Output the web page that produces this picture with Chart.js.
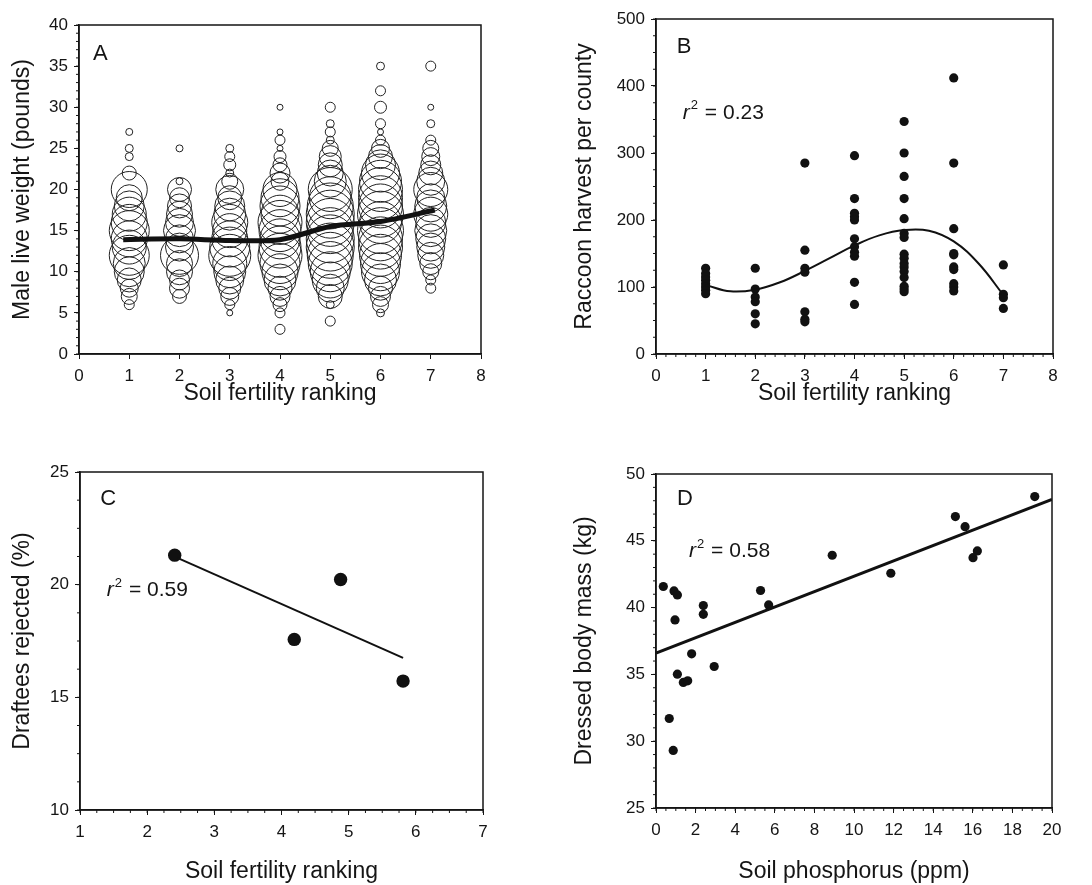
<!DOCTYPE html>
<html><head><meta charset="utf-8">
<script src="https://cdn.jsdelivr.net/npm/chart.js@4.4.1/dist/chart.umd.min.js"></script>
<style>
html,body{margin:0;padding:0;background:#fff;}
#wrap{position:relative;width:1092px;height:885px;overflow:hidden;background:#fff;}
canvas{position:absolute;}
</style></head><body>
<div id="wrap">
<canvas id="cA" width="546" height="420" style="left:0;top:0;width:546px;height:420px"></canvas>
<canvas id="cB" width="546" height="420" style="left:546px;top:0;width:546px;height:420px"></canvas>
<canvas id="cC" width="546" height="465" style="left:0;top:420px;width:546px;height:465px"></canvas>
<canvas id="cD" width="546" height="465" style="left:546px;top:420px;width:546px;height:465px"></canvas>
</div>
<script>
// ---------- Panel A : bubbles (weight, relative frequency) per fertility rank ----------
const rankA = [1, 2, 3, 4, 5, 6, 7];
const weightA1 = [27,25,24,22,20,19,18,17,16,15,14,13,12,11,10,9,8,7,6];
const sizeA1   = [3.5,4,4,7,18,13,15,17,18,20,18,17,20,16,15,12,9,8,5];
const weightA2 = [25,21,20,19,18,17,16,15,14,13,12,11,10,9,8,7];
const sizeA2   = [3.5,3.5,12,10,12,13,14,16,14,14,19,13,13,10,10,7];
const weightA3 = [25,24,23,22,21,20,19,18,17,16,15,14,13,12,11,10,9,8,7,6,5];
const sizeA3   = [4,5,6,4,8,14,12,15,16,18,17,18,20,21,17,16,14,11,9,5,3];
const weightA4 = [30,27,26,25,24,23,22,21,20,19,18,17,16,15,14,13,12,11,10,9,8,7,6,5,3];
const sizeA4   = [3,3,5,3,6,7,10,9,17,19,20,19,22,21,20,21,22,20,18,16,12,10,7,5,5];
const weightA5 = [30,28,27,26,25,24,23,22,21,20,19,18,17,16,15,14,13,12,11,10,9,8,7,6,4];
const sizeA5   = [5,4,5,4,8,11,12,13,16,22,21,23,24,24,23,24,24,23,22,20,18,14,12,4,5];
const weightA6 = [35,32,30,28,27,26,25,24,23,22,21,20,19,18,17,16,15,14,13,12,11,10,9,8,7,6,5];
const sizeA6   = [4,5,6,5,3,5,9,12,15,19,21,22,22,22,23,21,23,22,22,21,20,19,16,12,10,8,4];
const weightA7 = [35,30,28,26,25,24,23,22,21,20,19,18,17,16,15,14,13,12,11,10,9,8];
const sizeA7   = [5,3,4,5,8,9,10,12,14,17,14,16,17,15,16,15,14,13,11,8,5,5];
const trendRankA   = [0.88, 2, 3, 4, 5, 6, 7.08];
const trendWeightA = [13.9, 14.0, 13.8, 13.9, 15.5, 16.1, 17.5];

// ---------- Panel B : raccoon harvest per county ----------
const rankB = [1,1,1,1,1,1,1,1, 2,2,2,2,2,2, 3,3,3,3,3,3,3, 4,4,4,4,4,4,4,4,4,4,4,
  5,5,5,5,5,5,5,5,5,5,5,5,5,5,5,5, 6,6,6,6,6,6,6,6,6,6, 7,7,7,7];
const harvestB = [128,120,115,110,105,100,95,90, 128,97,85,78,60,45, 285,155,128,122,63,52,48,
  296,232,210,205,200,172,160,152,146,107,74,
  347,300,265,232,202,180,174,149,143,135,130,123,114,101,97,93,
  412,285,187,150,148,130,126,105,100,94, 133,89,84,68];
const curveRankB    = [1, 1.5, 2, 2.5, 3, 3.5, 4, 4.5, 5, 5.5, 6, 6.5, 7];
const curveHarvestB = [103, 93.5, 96, 107, 124, 143, 162, 177, 185, 184, 168, 135, 88];

// ---------- Panel C : draftees rejected ----------
const rankC     = [2.41, 4.19, 4.88, 5.81];
const rejectedC = [21.31, 17.57, 20.23, 15.72];
const fitRankC     = [2.45, 5.81];
const fitRejectedC = [21.19, 16.75];

// ---------- Panel D : dressed body mass vs soil phosphorus ----------
const phosphorusD = [0.37,0.91,1.08,0.96,0.67,0.87,1.08,1.38,1.6,1.8,2.39,2.39,2.94,5.28,5.69,8.9,11.86,15.12,15.61,16.01,16.23,19.13];
const massD       = [41.58,41.25,40.95,39.08,31.7,29.31,35.02,34.4,34.52,36.54,40.15,39.5,35.59,41.28,40.2,43.92,42.57,46.81,46.06,43.74,44.24,48.31];
const fitPhosphorusD = [0, 20];
const fitMassD       = [36.6, 48.1];

// ---------- Text ----------
const panelLetters = ['A', 'B', 'C', 'D'];
const r2Values = ['0.23', '0.59', '0.58'];
const yTitles = ['Male live weight (pounds)', 'Raccoon harvest per county', 'Draftees rejected (%)', 'Dressed body mass (kg)'];
const xTitles = ['Soil fertility ranking', 'Soil fertility ranking', 'Soil fertility ranking', 'Soil phosphorus (ppm)'];

// ---------- helpers ----------
const FONT = '"Liberation Sans", Arial, Helvetica, sans-serif';
const INK = '#151515';
const zip = (xs, ys) => xs.map((x, i) => ({x, y: ys[i]}));
const bub = (x, ws, rs) => ws.map((w, i) => ({x, y: w, r: rs[i]}));

const framePlugin = {
  id: 'frame',
  afterDraw(chart, args, opts) {
    const {ctx, chartArea: a, scales} = chart;
    ctx.save();
    ctx.strokeStyle = INK;
    ctx.lineWidth = 1;
    const minor = (s, step, horiz) => {
      if (!step) return;
      const n = Math.round((s.max - s.min) / step);
      for (let i = 0; i <= n; i++) {
        const v = s.min + i * step;
        const p = s.getPixelForValue(v);
        ctx.beginPath();
        if (horiz) { ctx.moveTo(p, a.bottom); ctx.lineTo(p, a.bottom + 3); }
        else { ctx.moveTo(a.left, p); ctx.lineTo(a.left - 3, p); }
        ctx.stroke();
      }
    };
    minor(scales.x, opts.minorX, true);
    minor(scales.y, opts.minorY, false);
    ctx.lineWidth = 1.5;
    ctx.strokeRect(a.left, a.top, a.right - a.left, a.bottom - a.top);
    ctx.restore();
  }
};

const notesPlugin = {
  id: 'notes',
  afterDatasetsDraw(chart, args, opts) {
    const {ctx, scales: {x, y}} = chart;
    (opts.items || []).forEach(it => {
      const px = x.getPixelForValue(it.x), py = y.getPixelForValue(it.y);
      ctx.save();
      ctx.fillStyle = INK;
      ctx.textBaseline = 'middle';
      ctx.textAlign = 'left';
      if (it.r2) {
        ctx.font = 'italic 21px ' + FONT;
        ctx.fillText('r', px, py);
        let w = ctx.measureText('r').width + 1;
        ctx.font = '13px ' + FONT;
        ctx.fillText('2', px + w, py - 7);
        w += ctx.measureText('2').width + 1;
        ctx.font = '21px ' + FONT;
        ctx.fillText(' = ' + it.text, px + w, py);
      } else {
        ctx.font = '22px ' + FONT;
        ctx.fillText(it.text, px, py);
      }
      ctx.restore();
    });
  }
};

function axes(cfg) {
  const tickFont = {family: FONT, size: 17};
  const titleFont = {family: FONT, size: 23};
  return {
    x: {
      type: 'linear', min: cfg.xmin, max: cfg.xmax,
      ticks: {stepSize: cfg.xstep, color: INK, font: tickFont, padding: 7, maxRotation: 0, autoSkip: false},
      grid: {drawOnChartArea: false, drawTicks: true, tickLength: 5, tickColor: INK, tickWidth: 1},
      border: {display: true, color: INK, width: 1.5},
      title: {display: true, text: cfg.xTitle, color: INK, font: titleFont, padding: {top: 0, bottom: cfg.xTitlePad}},
      afterFit: s => { s.height = cfg.xH; }
    },
    y: {
      type: 'linear', min: cfg.ymin, max: cfg.ymax,
      ticks: {stepSize: cfg.ystep, color: INK, font: tickFont, padding: 6, autoSkip: false},
      grid: {drawOnChartArea: false, drawTicks: true, tickLength: 5, tickColor: INK, tickWidth: 1},
      border: {display: true, color: INK, width: 1.5},
      title: {display: true, text: cfg.yTitle, color: INK, font: titleFont, padding: {top: cfg.yTitlePad, bottom: 0}},
      afterFit: s => { s.width = cfg.yW; }
    }
  };
}

function baseOptions(cfg) {
  return {
    responsive: false, animation: false, devicePixelRatio: 1,
    layout: {padding: {left: 0, top: cfg.padTop, right: cfg.padRight, bottom: 0}},
    plugins: {
      legend: {display: false}, tooltip: {enabled: false},
      frame: {minorX: cfg.minorX, minorY: cfg.minorY},
      notes: {items: cfg.notes}
    },
    scales: axes(cfg)
  };
}

// ----- Chart A -----
const colsA = [[weightA1, sizeA1], [weightA2, sizeA2], [weightA3, sizeA3], [weightA4, sizeA4],
               [weightA5, sizeA5], [weightA6, sizeA6], [weightA7, sizeA7]];
const bubbleDataA = colsA.flatMap((c, i) => bub(rankA[i], c[0], c[1]));
new Chart(document.getElementById('cA'), {
  type: 'bubble',
  data: {datasets: [
    {type: 'line', data: zip(trendRankA, trendWeightA), borderColor: '#111', borderWidth: 5,
     pointRadius: 0, tension: 0.3, order: 0, fill: false},
    {type: 'bubble', data: bubbleDataA, backgroundColor: 'rgba(0,0,0,0)', borderColor: '#222',
     borderWidth: 1, order: 1, clip: false}
  ]},
  options: baseOptions({xmin: 0, xmax: 8, xstep: 1, ymin: 0, ymax: 40, ystep: 5,
    xTitle: xTitles[0], yTitle: yTitles[0], xH: 66, yW: 79, padTop: 18, padRight: 65,
    xTitlePad: 13, yTitlePad: 9, minorX: 0, minorY: 1,
    notes: [{x: 0.28, y: 36.5, text: panelLetters[0]}]}),
  plugins: [framePlugin, notesPlugin]
});

// ----- Chart B -----
new Chart(document.getElementById('cB'), {
  type: 'scatter',
  data: {datasets: [
    {type: 'line', data: zip(curveRankB, curveHarvestB), borderColor: '#111', borderWidth: 2,
     pointRadius: 0, tension: 0.4, order: 0, fill: false},
    {data: zip(rankB, harvestB), backgroundColor: '#111', borderColor: '#111', pointRadius: 4.6,
     borderWidth: 0, order: 1}
  ]},
  options: baseOptions({xmin: 0, xmax: 8, xstep: 1, ymin: 0, ymax: 500, ystep: 100,
    xTitle: xTitles[1], yTitle: yTitles[1], xH: 66, yW: 110, padTop: 19, padRight: 39,
    xTitlePad: 13, yTitlePad: 25, minorX: 0.2, minorY: 25,
    notes: [{x: 0.42, y: 458, text: panelLetters[1]}, {x: 0.54, y: 360, text: r2Values[0], r2: true}]}),
  plugins: [framePlugin, notesPlugin]
});

// ----- Chart C -----
new Chart(document.getElementById('cC'), {
  type: 'scatter',
  data: {datasets: [
    {type: 'line', data: zip(fitRankC, fitRejectedC), borderColor: '#111', borderWidth: 2,
     pointRadius: 0, order: 0, fill: false},
    {data: zip(rankC, rejectedC), backgroundColor: '#111', borderColor: '#111', pointRadius: 6.7,
     borderWidth: 0, order: 1}
  ]},
  options: baseOptions({xmin: 1, xmax: 7, xstep: 1, ymin: 10, ymax: 25, ystep: 5,
    xTitle: xTitles[2], yTitle: yTitles[2], xH: 75, yW: 80, padTop: 52, padRight: 63,
    xTitlePad: 0, yTitlePad: 9, minorX: 0.25, minorY: 1.25,
    notes: [{x: 1.30, y: 23.8, text: panelLetters[2]}, {x: 1.40, y: 19.76, text: r2Values[1], r2: true}]}),
  plugins: [framePlugin, notesPlugin]
});

// ----- Chart D -----
new Chart(document.getElementById('cD'), {
  type: 'scatter',
  data: {datasets: [
    {type: 'line', data: zip(fitPhosphorusD, fitMassD), borderColor: '#111', borderWidth: 3,
     pointRadius: 0, order: 0, fill: false},
    {data: zip(phosphorusD, massD), backgroundColor: '#111', borderColor: '#111', pointRadius: 4.6,
     borderWidth: 0, order: 1}
  ]},
  options: baseOptions({xmin: 0, xmax: 20, xstep: 2, ymin: 25, ymax: 50, ystep: 5,
    xTitle: xTitles[3], yTitle: yTitles[3], xH: 77, yW: 110, padTop: 54, padRight: 40,
    xTitlePad: 0, yTitlePad: 25, minorX: 0.5, minorY: 1,
    notes: [{x: 1.06, y: 48.13, text: panelLetters[3]}, {x: 1.67, y: 44.24, text: r2Values[2], r2: true}]}),
  plugins: [framePlugin, notesPlugin]
});
</script>
</body></html>
